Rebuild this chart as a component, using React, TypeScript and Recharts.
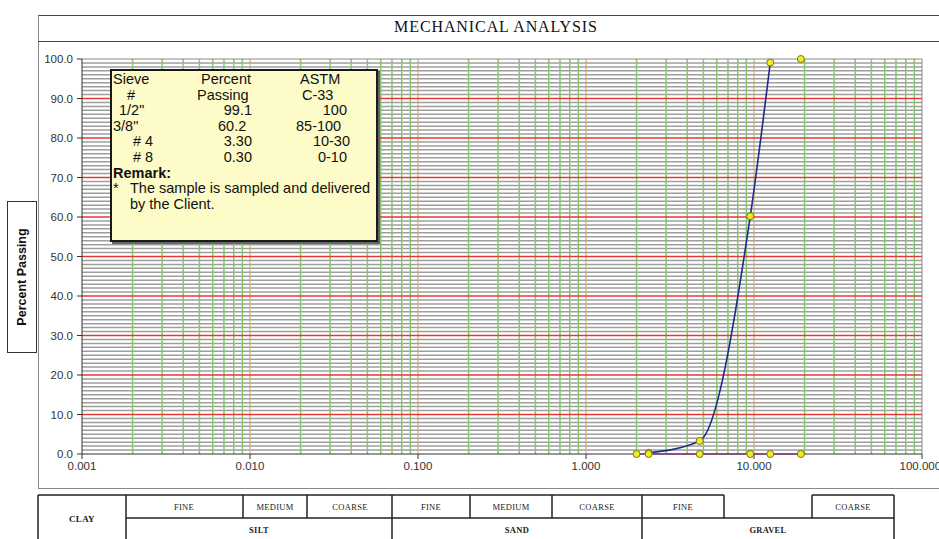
import React from "react";
import {
  ComposedChart,
  Line,
  Scatter,
  XAxis,
  YAxis,
  ReferenceLine,
} from "recharts";

// sieve results (size in mm, percent passing)
const sieveSizes = [2.36, 4.75, 9.5, 12.5];
const percentPassing = [0.3, 3.3, 60.2, 99.1];
// limit line along the bottom
const limitSizes = [2.0, 2.36, 4.75, 9.5, 12.5, 19];
const limitValues = [0, 0, 0, 0, 0, 0];
const topSizes = [19];
const topValues = [100];

const xTicks = [0.001, 0.01, 0.1, 1, 10, 100];
const yTicks = [0, 10, 20, 30, 40, 50, 60, 70, 80, 90, 100];

const tableRows = [
  ["Sieve", "Percent", "ASTM"],
  ["#", "Passing", "C-33"],
  ['1/2"', "99.1", "100"],
  ['3/8"', "60.2", "85-100"],
  ["# 4", "3.30", "10-30"],
  ["# 8", "0.30", "0-10"],
];

const subLabels = ["FINE", "MEDIUM", "COARSE", "FINE", "MEDIUM", "COARSE", "FINE", "COARSE"];
const subCenters = [184, 275, 350, 431, 511, 597, 683, 853];
const mainLabels = ["SILT", "SAND", "GRAVEL"];
const mainCenters = [259, 517, 768];

const blueData = sieveSizes.map((x, i) => ({ x, y: percentPassing[i] }));
const limitData = limitSizes.map((x, i) => ({ x, y: limitValues[i] }));
const topData = topSizes.map((x, i) => ({ x, y: topValues[i] }));

const minorY: number[] = [];
for (let v = 1; v < 100; v++) if (v % 10 !== 0) minorY.push(v);
const majorY = [10, 20, 30, 40, 50, 60, 70, 80, 90];
const minorX: number[] = [];
for (const d of [0.001, 0.01, 0.1, 1, 10]) {
  for (let m = 2; m <= 9; m++) minorX.push(+(d * m).toPrecision(3));
}
const decadeX = [0.01, 0.1, 1, 10];

const dot = { r: 3.5, fill: "#f2ee1a", stroke: "#7a7030", strokeWidth: 1 };

function YellowDot(props: any) {
  const { cx, cy } = props;
  if (cx == null || cy == null) return null;
  return <circle cx={cx} cy={cy} {...dot} />;
}

const font = "'Liberation Sans', Arial, sans-serif";
const serif = "'Liberation Serif', 'Times New Roman', serif";

export default function App() {
  return (
    <div
      style={{
        position: "absolute",
        left: 0,
        top: 0,
        width: 939,
        height: 539,
        background: "#fff",
        overflow: "hidden",
        fontFamily: font,
      }}
    >
      {/* chart frame + title bar */}
      <div
        style={{
          position: "absolute",
          left: 38,
          top: 15,
          width: 930,
          height: 472,
          border: "1px solid #8a8a8a",
          borderTop: "1.5px solid #444",
        }}
      />
      <div
        style={{
          position: "absolute",
          left: 38,
          top: 41,
          width: 930,
          borderTop: "1.5px solid #444",
        }}
      />
      <div
        style={{
          position: "absolute",
          left: 296,
          top: 18,
          width: 400,
          textAlign: "center",
          fontFamily: serif,
          fontSize: 16,
          letterSpacing: 0.9,
          color: "#111",
        }}
      >
        MECHANICAL ANALYSIS
      </div>

      <div style={{ position: "absolute", left: 0, top: 0 }}>
        <ComposedChart
          width={939}
          height={539}
          margin={{ top: 59, right: 17, bottom: 55, left: 38 }}
        >
          <XAxis
            dataKey="x"
            type="number"
            scale="log"
            domain={[0.001, 100]}
            ticks={xTicks}
            allowDataOverflow
            height={30}
            tickSize={5}
            tickMargin={3}
            tickFormatter={(v: number) => v.toFixed(3)}
            tick={{ fill: "#333", fontSize: 11.5, fontFamily: font }}
            axisLine={{ stroke: "#333" }}
            tickLine={{ stroke: "#333" }}
          />
          <YAxis
            type="number"
            domain={[0, 100]}
            ticks={yTicks}
            width={44}
            tickSize={5}
            tickMargin={4}
            tickFormatter={(v: number) => v.toFixed(1)}
            tick={{ fill: "#333", fontSize: 11.5, fontFamily: font }}
            axisLine={{ stroke: "#333" }}
            tickLine={{ stroke: "#333" }}
          />
          {minorY.map((v) => (
            <ReferenceLine key={"my" + v} y={v} stroke="#9e9e9e" strokeWidth={1.5} />
          ))}
          {minorX.map((v) => (
            <ReferenceLine key={"mx" + v} x={v} stroke="#84c86a" strokeWidth={1.5} />
          ))}
          {decadeX.map((v) => (
            <ReferenceLine key={"dx" + v} x={v} stroke="#c9a65a" strokeWidth={1} />
          ))}
          {majorY.map((v) => (
            <ReferenceLine key={"My" + v} y={v} stroke="#e23a32" strokeWidth={1.6} />
          ))}
          <ReferenceLine y={100} stroke="#8a8a8a" strokeWidth={1} />
          <ReferenceLine x={100} stroke="#8a8a8a" strokeWidth={1} />
          <Line
            data={blueData}
            dataKey="y"
            type="monotone"
            stroke="#1c2a8a"
            strokeWidth={1.6}
            dot={<YellowDot />}
            isAnimationActive={false}
          />
          <Line
            data={limitData}
            dataKey="y"
            type="linear"
            stroke="#d83cc0"
            strokeWidth={1.5}
            dot={<YellowDot />}
            isAnimationActive={false}
          />
          <Scatter
            data={topData}
            dataKey="y"
            shape={<YellowDot />}
            isAnimationActive={false}
          />
        </ComposedChart>
      </div>

      {/* y-axis title */}
      <div
        style={{
          position: "absolute",
          left: 7,
          top: 201,
          width: 28,
          height: 150,
          border: "1.5px solid #333",
          background: "#fff",
        }}
      >
        <div
          style={{
            position: "absolute",
            left: 14,
            top: 75,
            transform: "translate(-50%, -50%) rotate(-90deg)",
            whiteSpace: "nowrap",
            fontWeight: "bold",
            fontSize: 12.5,
            color: "#111",
          }}
        >
          Percent Passing
        </div>
      </div>

      {/* sieve table box */}
      <div
        style={{
          position: "absolute",
          left: 110,
          top: 69,
          width: 264,
          height: 169,
          background: "#fdfbc8",
          border: "2px solid #1a1a1a",
          boxShadow: "2px 2px 0 #666",
          fontSize: 14.5,
          lineHeight: "16px",
          color: "#111",
        }}
      >
        {tableRows.map((row, i) => {
          const top = 0 + i * 15.6;
          const lefts = [
            [1, 89, 188],
            [15, 85, 190],
            [7, null, null],
            [1, 106, 184],
            [21, null, null],
            [21, null, null],
          ][i];
          const rights = [
            [null, null, null],
            [null, null, null],
            [null, 124, 29],
            [null, null, null],
            [null, 124, 26],
            [null, 124, 29],
          ][i];
          return row.map((t, j) => {
            const l = lefts[j];
            const r = rights[j];
            const style: React.CSSProperties = {
              position: "absolute",
              top,
              whiteSpace: "nowrap",
            };
            if (l != null) style.left = l;
            else style.right = r as number;
            return (
              <span key={i + "-" + j} style={style}>
                {t}
              </span>
            );
          });
        })}
        <span style={{ position: "absolute", left: 1, top: 93.6, fontWeight: "bold" }}>
          Remark:
        </span>
        <span style={{ position: "absolute", left: 1, top: 109.2 }}>*</span>
        <span style={{ position: "absolute", left: 18, top: 109.2, whiteSpace: "nowrap" }}>
          The sample is sampled and delivered
        </span>
        <span style={{ position: "absolute", left: 18, top: 124.8, whiteSpace: "nowrap" }}>
          by the Client.
        </span>
      </div>

      {/* soil classification table */}
      <svg
        width={939}
        height={539}
        style={{ position: "absolute", left: 0, top: 0, pointerEvents: "none" }}
      >
        <g stroke="#222" strokeWidth={1.5} fill="none">
          <line x1={38} y1={495} x2={724} y2={495} />
          <line x1={812} y1={495} x2={894} y2={495} />
          <line x1={126} y1={518} x2={894} y2={518} />
          <line x1={38} y1={495} x2={38} y2={545} />
          <line x1={894} y1={495} x2={894} y2={545} />
          <line x1={126} y1={495} x2={126} y2={545} />
          {[243, 307, 392, 470, 552, 642, 724, 812].map((x) => (
            <line key={x} x1={x} y1={495} x2={x} y2={518} />
          ))}
          {[392, 642].map((x) => (
            <line key={"b" + x} x1={x} y1={518} x2={x} y2={545} />
          ))}
        </g>
        <g fontFamily={serif} fontSize={8.5} letterSpacing={0.3} fill="#222" textAnchor="middle">
          {subLabels.map((t, i) => (
            <text key={i} x={subCenters[i]} y={509.5}>
              {t}
            </text>
          ))}
          {mainLabels.map((t, i) => (
            <text key={t} x={mainCenters[i]} y={533} fontWeight="bold">
              {t}
            </text>
          ))}
          <text x={82} y={522} fontWeight="bold" fontSize={9}>
            CLAY
          </text>
        </g>
      </svg>
    </div>
  );
}
